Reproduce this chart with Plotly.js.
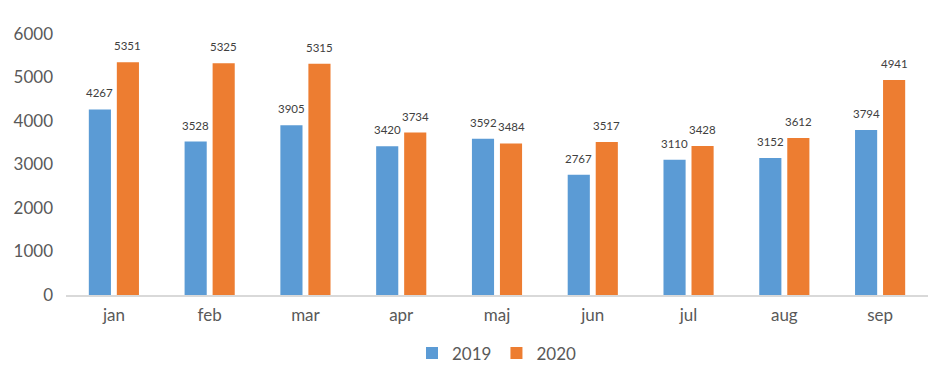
<!DOCTYPE html>
<html><head><meta charset="utf-8">
<script src="https://cdn.plot.ly/plotly-3.0.1.min.js"></script>
<style>html,body{margin:0;padding:0;background:#fff}</style>
</head><body><div id="chart" style="width:940px;height:387px"></div>
<script>
const months = ["jan","feb","mar","apr","maj","jun","jul","aug","sep"];
const values2019 = [4267,3528,3905,3420,3592,2767,3110,3152,3794];
const values2020 = [5351,5325,5315,3734,3484,3517,3428,3612,4941];
const yTicks = [0,1000,2000,3000,4000,5000,6000];

const font = "Lato, 'Noto Sans', sans-serif";
function mk(name, vals, color){
  return {type:'bar', name:name, x:months, y:vals, marker:{color:color}, hoverinfo:'x+y'};
}
const data = [mk('2019', values2019, '#5B9BD5'), mk('2020', values2020, '#ED7D31')];
const annotations = [];
[[values2019,-14],[values2020,14]].forEach(([vals,dx])=>{
  vals.forEach((v,i)=>annotations.push({x:months[i], y:v, xref:'x', yref:'y', text:String(v),
    showarrow:false, xanchor:'center', yanchor:'bottom', xshift:dx, yshift:8,
    font:{family:font,size:11.5,color:'#404040'}}));
});
const layout = {
  width:940, height:387,
  margin:{l:66,r:12,t:34,b:92},
  paper_bgcolor:'#fff', plot_bgcolor:'#fff',
  barmode:'group', bargap:0.415, bargroupgap:0.21,
  font:{family:font,color:'#595959'},
  annotations:annotations,
  xaxis:{tickfont:{size:17,color:'#595959'}, showline:true, linecolor:'#D9D9D9', linewidth:2, ticks:'', showgrid:false, ticklabelstandoff:4, automargin:false},
  yaxis:{range:[0,6000], tickvals:yTicks, tickfont:{size:17,color:'#595959'}, showgrid:false, zeroline:false, showline:false, ticks:'', ticklabelstandoff:12, automargin:false},
  legend:{orientation:'h', x:0.5, xanchor:'center', y:-0.155, yanchor:'top', font:{size:17,color:'#595959'}, itemwidth:30, tracegroupgap:0},
  showlegend:true
};
Plotly.newPlot('chart', data, layout, {displayModeBar:false, staticPlot:true});
</script></body></html>
